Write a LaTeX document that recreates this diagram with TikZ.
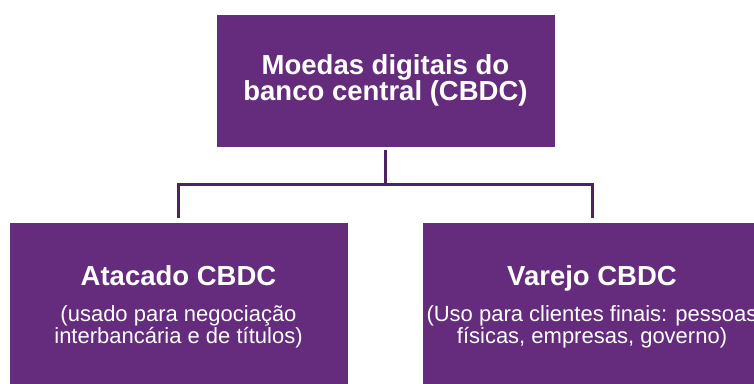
\documentclass[tikz,border=0pt]{standalone}
\usepackage{fontspec}
\setmainfont{Liberation Sans}
\usetikzlibrary{positioning}
\definecolor{cbdcfill}{HTML}{652B7C}
\definecolor{cbdcline}{HTML}{4E2260}

\begin{document}
\begin{tikzpicture}[x=1pt,y=-1pt,
  box/.style={fill=cbdcfill,draw=white,line width=0.6pt,minimum width=339pt,inner sep=0pt},
  head/.style={text=white,font=\fontsize{27.5}{26.7}\selectfont\bfseries,align=center,inner sep=0pt},
  sub/.style={text=white,font=\fontsize{22}{19.7}\selectfont,align=center,inner sep=0pt},
  link/.style={cbdcline,line width=3pt,shorten <=3pt,shorten >=4pt}]
  \clip (0,0) rectangle (754,383);
  \fill[white] (0,0) rectangle (754,383);
  % top level
  \node[box,minimum height=133pt] (cbdc) at (385.5,80.5) {};
  \node[head] (cbdcT) at (cbdc.center) {Moedas digitais do\\banco central (CBDC)};
  % two kinds
  \node[box,minimum height=168pt] (atac) at (178.5,306) {};
  \node[head,anchor=base] (atacT) at (178.5,285.7) {Atacado CBDC};
  \node[sub] (atacS) at (178.5,326.5) {(usado para negociação\\interbancária e de títulos)};
  \node[box,minimum height=168pt] (varejo) at (592,306) {};
  \node[head,anchor=base] (varejoT) at (592,285.7) {Varejo CBDC};
  \node[sub] (varejoS) at (592,326.5) {(Uso para clientes finais: pessoas\\físicas, empresas, governo)};
  % connectors
  \draw[link] (cbdc.south) -- ++(0,37) -| (atac.north);
  \draw[link] (cbdc.south) -- ++(0,37) -| (varejo.north);
\end{tikzpicture}
\end{document}
